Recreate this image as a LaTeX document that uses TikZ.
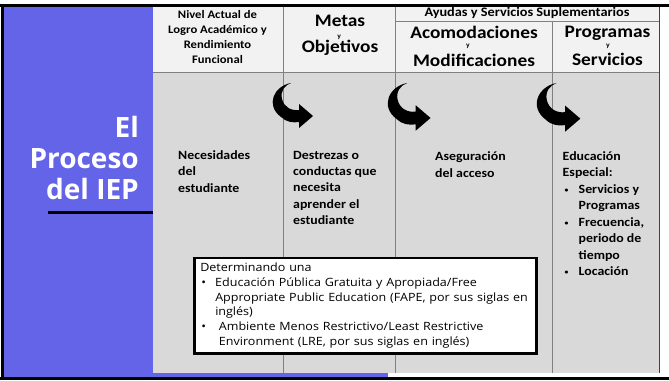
\documentclass[tikz,border=0pt]{standalone}
\usepackage{fontspec}
\setmainfont{Carlito}[FakeStretch=1.1]
\newfontfamily\osans{Open Sans}[FakeStretch=1.1]
\newfontfamily\titlefont{Open Sans}
\definecolor{iepPurple}{RGB}{100,100,232}
\definecolor{hdrGray}{RGB}{242,242,242}
\definecolor{bodyGray}{RGB}{217,217,217}
\definecolor{lineGray}{RGB}{128,128,128}
\newcommand\iepbul{\hspace*{2pt}\makebox[14pt][l]{\raisebox{1pt}{\fontsize{7}{7}\selectfont•}}}
\newcommand\iepind{\hspace*{16pt}}
\begin{document}
\begin{tikzpicture}[x=1pt,y=-1pt,
  hdr/.style={font=\bfseries\fontsize{11.5}{15}\selectfont,align=center,inner sep=0},
  bighdr/.style={font=\bfseries\fontsize{17.6}{20}\selectfont,inner sep=0,anchor=base},
  smally/.style={font=\bfseries\fontsize{7}{7}\selectfont,inner sep=0,anchor=base},
  subhdr/.style={font=\bfseries\fontsize{13}{15}\selectfont,inner sep=0,anchor=base},
  body/.style={font=\bfseries\fontsize{12.6}{16.3}\selectfont,align=left,inner sep=0,anchor=west},
  colline/.style={draw=lineGray,line width=0.8pt},
  turnarrow/.pic={\fill[black] (20,0) .. controls (3,3) and (-6,22) .. (10,34)
     .. controls (15,39) and (22,40) .. (28,39) -- (28,45) -- (42,33) -- (28,21) -- (28,27)
     .. controls (20,28) and (13,24) .. (11,16) .. controls (9,8) and (14,2) .. (20,0) -- cycle;}]
\useasboundingbox (0,0) rectangle (669,380);
\fill[white] (0,0) rectangle (669,380);
% panels
\fill[iepPurple] (3,5) rectangle (153,377);
\fill[iepPurple] (153,372) rectangle (388,377);
\fill[hdrGray] (153,6) rectangle (659,72);
\fill[bodyGray] (153,72) rectangle (659,372.7);
% table lines
\draw[colline] (153,72) -- (659,72);
\draw[colline] (395,21.3) -- (659,21.3);
\draw[colline] (283,5) -- (283,372.7);
\draw[colline] (395,5) -- (395,372.7);
\draw[colline] (552,21.3) -- (552,372.7);
\draw[line width=1pt,draw=black!75] (659.5,5) -- (659.5,372.7);
% frame
\draw[line width=2.6pt] (0,5.3) -- (669,5.3);
\draw[line width=3pt] (2.5,4) -- (2.5,380);
\draw[line width=3pt] (0,378.5) -- (669,378.5);
% title
\node[font=\titlefont\bfseries\fontsize{28}{31.35}\selectfont,text=white,align=right,anchor=east,inner sep=0] (title) at (139,158) {El\\Proceso\\del IEP};
\draw[line width=3pt] (48,212.7) -- (153,212.7);
% headers
\node[hdr] (nivel) at (217.5,36.7) {Nivel Actual de\\Logro Académico y\\Rendimiento\\Funcional};
\node[bighdr] (metas) at (340,27) {Metas};
\node[smally] (metasy) at (339.3,38.3) {y};
\node[bighdr] (objetivos) at (340,52.7) {Objetivos};
\node[subhdr] (ayudas) at (527,16.7) {Ayudas y Servicios Suplementarios};
\node[bighdr] (acomod) at (474,38.7) {Acomodaciones};
\node[smally] (acomy) at (468,47.5) {y};
\node[bighdr] (modif) at (474,66) {Modificaciones};
\node[bighdr] (progr) at (607.5,37.5) {Programas};
\node[smally] (progy) at (608,47.5) {y};
\node[bighdr] (servic) at (607.5,65.7) {Servicios};
% arrows
\pic at (271,83) {turnarrow};
\pic[scale=1.06] at (386,83) {turnarrow};
\pic[scale=1.08] at (535,83) {turnarrow};
% body
\node[body] (col1) at (178,171.5) {Necesidades\\del\\estudiante};
\node[body] (col2) at (293,187.8) {Destrezas o\\conductas que\\necesita\\aprender el\\estudiante};
\node[body] (col3) at (435,164.5) {Aseguración\\del acceso};
\node[body,font=\bfseries\fontsize{12.6}{16.43}\selectfont] (col4) at (562.5,213.6) {Educación\\Especial:\\\iepbul Servicios y\\\iepind Programas\\\iepbul Frecuencia,\\\iepind periodo de\\\iepind tiempo\\\iepbul Locación};
% FAPE box
\node[draw=black,line width=2.5pt,fill=white,anchor=north west,minimum width=342pt,minimum height=95.5pt,text width=330pt,inner xsep=6pt,inner ysep=0pt,align=left,font=\osans\fontsize{11.4}{14.9}\selectfont] (fape) at (193,256.5)
{Determinando una\\
\hspace*{1pt}\makebox[14pt][l]{•}Educación Pública Gratuita y Apropiada/Free\\
\hspace*{15pt}Appropriate Public Education (FAPE, por sus siglas en\\
\hspace*{15pt}inglés)\\
\hspace*{1pt}\makebox[17.7pt][l]{•}Ambiente Menos Restrictivo/Least Restrictive\\
\hspace*{18.7pt}Environment (LRE, por sus siglas en inglés)};
\end{tikzpicture}
\end{document}
